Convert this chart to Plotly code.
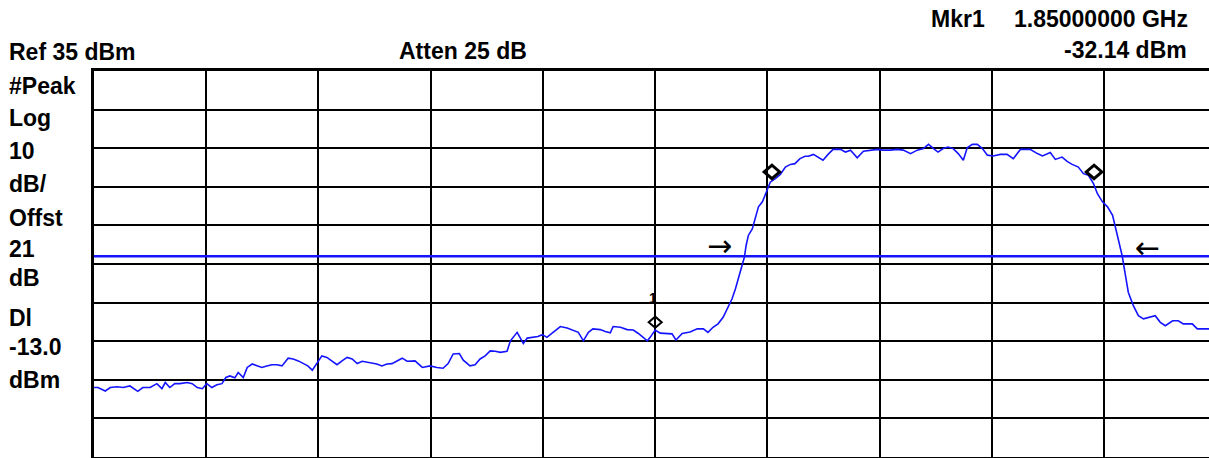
import plotly.graph_objects as go

# Swept trace, frequency in MHz and level in dBm
freq_mhz = [
    1750.0, 1750.7, 1752.0, 1752.9, 1754.1, 1755.2, 1756.4, 1757.0, 1757.8, 1758.7,
    1760.0, 1761.2, 1762.1, 1762.7, 1763.5, 1764.4, 1765.3, 1766.6, 1767.5, 1768.4,
    1769.3, 1770.1, 1771.0, 1771.9, 1772.8, 1773.5, 1774.2, 1775.1, 1775.7, 1776.6,
    1777.3, 1778.2, 1779.1, 1779.9, 1780.8, 1781.7, 1782.6, 1783.5, 1784.6, 1785.5,
    1786.4, 1787.3, 1788.1, 1788.9, 1789.7, 1790.6, 1791.5, 1792.4, 1793.3, 1794.2,
    1795.1, 1796.0, 1796.9, 1797.8, 1798.7, 1799.6, 1800.4, 1801.3, 1802.2, 1803.1,
    1804.0, 1804.9, 1805.8, 1807.2, 1808.5, 1809.9, 1811.1, 1812.2, 1813.1, 1814.0,
    1815.1, 1815.8, 1817.0, 1817.9, 1818.8, 1819.7, 1820.6, 1821.5, 1822.4, 1823.6,
    1824.2, 1824.7, 1825.4, 1825.9, 1826.5, 1827.2, 1828.3, 1829.1, 1829.9, 1830.7,
    1831.8, 1833.1, 1834.3, 1835.4, 1836.3, 1837.2, 1838.1, 1838.9, 1840.2, 1841.1,
    1842.0, 1842.5, 1843.8, 1845.0, 1846.1, 1847.0, 1847.9, 1848.6, 1849.1, 1850.0,
    1850.9, 1851.8, 1853.0, 1853.7, 1854.8, 1856.2, 1857.5, 1858.6, 1859.4, 1860.3,
    1861.2, 1862.1, 1863.0, 1863.7, 1864.3, 1864.8, 1865.5, 1865.9, 1866.2, 1866.6,
    1867.3, 1867.8, 1868.4, 1869.1, 1869.6, 1870.0, 1870.5, 1871.4, 1872.3, 1873.2,
    1874.1, 1874.9, 1875.8, 1876.7, 1877.3, 1878.2, 1879.1, 1879.9, 1880.8, 1881.7,
    1883.0, 1883.9, 1884.8, 1886.0, 1887.1, 1888.3, 1889.6, 1890.6, 1891.9, 1893.1,
    1894.2, 1895.5, 1896.7, 1897.8, 1898.7, 1899.6, 1900.4, 1901.3, 1902.2, 1903.1,
    1904.0, 1904.9, 1905.6, 1906.5, 1907.4, 1908.3, 1909.2, 1910.2, 1911.5, 1912.7,
    1913.8, 1915.1, 1916.8, 1918.1, 1919.0, 1920.4, 1921.3, 1922.5, 1923.4, 1924.3,
    1925.4, 1926.3, 1927.2, 1928.1, 1928.8, 1929.7, 1930.6, 1931.5, 1932.0, 1932.5,
    1933.2, 1933.8, 1934.3, 1935.2, 1936.1, 1937.0, 1937.9, 1939.1, 1940.0, 1940.9,
    1942.2, 1943.2, 1944.1, 1945.7, 1946.6, 1948.7,
]
level_dbm = [
    -47.0, -47.0, -47.9, -47.0, -46.8, -47.0, -46.6, -47.3, -48.0, -47.0,
    -47.0, -46.0, -47.3, -45.7, -47.0, -46.0, -46.0, -45.7, -46.0, -47.0,
    -47.3, -46.0, -47.0, -46.3, -46.0, -44.4, -44.0, -44.5, -43.1, -44.4,
    -41.8, -40.9, -41.4, -41.8, -41.4, -41.1, -41.1, -41.4, -39.4, -39.6,
    -40.1, -40.9, -41.4, -42.5, -40.9, -38.8, -39.2, -40.2, -41.1, -40.1,
    -39.2, -39.6, -40.8, -40.2, -40.4, -40.6, -40.9, -41.4, -40.9, -40.8,
    -40.1, -39.4, -40.2, -40.1, -41.8, -41.4, -41.8, -42.0, -40.8, -38.3,
    -38.2, -39.9, -41.4, -41.1, -39.6, -38.8, -37.5, -37.6, -37.9, -37.6,
    -34.9, -34.0, -32.7, -34.0, -35.6, -34.2, -34.0, -33.8, -33.3, -34.0,
    -32.7, -31.2, -31.6, -32.1, -32.7, -34.9, -32.7, -31.8, -32.0, -32.5,
    -32.8, -31.2, -31.4, -32.0, -32.1, -33.0, -34.0, -34.9, -34.0, -32.14,
    -32.9, -33.0, -33.1, -34.7, -33.0, -32.6, -31.8, -31.8, -32.7, -31.4,
    -30.5, -28.8, -26.2, -24.0, -21.4, -18.8, -15.8, -13.2, -10.2, -7.6,
    -5.9, -3.3, -0.2, 1.1, 2.8, 4.5, 6.2, 7.1, 8.2, 10.1,
    10.8, 11.0, 12.3, 12.9, 12.9, 13.4, 12.7, 11.9, 13.4, 14.7,
    14.7, 14.0, 14.5, 12.5, 14.2, 14.5, 14.7, 14.5, 14.5, 14.7,
    14.5, 13.6, 14.5, 14.9, 16.0, 14.9, 14.0, 14.9, 15.3, 14.9,
    13.6, 11.9, 15.1, 16.0, 16.0, 14.9, 13.2, 13.0, 13.4, 13.4,
    12.3, 14.7, 14.7, 13.6, 13.0, 13.9, 12.1, 12.7, 11.6, 10.8,
    10.1, 8.4, 8.0, 5.8, 3.2, 1.1, -0.2, -2.4, -5.4, -8.5,
    -12.8, -18.0, -22.3, -25.8, -28.4, -29.2, -28.8, -28.4, -30.1, -31.0,
    -29.7, -29.7, -30.5, -30.5, -31.8, -31.8,
]

# Screen settings
ref_level_dbm = 35
db_per_div = 10
display_line_dbm = -13.0
start_mhz = 1750
mhz_per_div = 20

# Marker 1 and the two bandwidth markers
marker1_freq = 1850.0
marker1_level = -32.14
bw_marker_freq = [1870.8, 1928.2]
bw_marker_level = [6.7, 6.7]

# Direction arrows beside the display line
arrow_freq = [1861.5, 1937.8]
arrow_level = [-10.2, -10.7]
arrow_text = ["\u2192", "\u2190"]

# Annotation text around the graticule: (text, x px, cap-centre y px)
header_left = [("Ref 35 dBm", 9, 51.7), ("Atten 25 dB", 399, 51.3),
               ("Mkr1", 931, 19.2)]
header_right = [("1.85000000 GHz", 1188, 19.2), ("-32.14 dBm", 1187, 49.5)]
side_labels = ["#Peak", "Log", "10", "dB/", "Offst", "21", "dB", "Dl", "-13.0", "dBm"]
side_label_y = [85.8, 118, 151.3, 184.2, 218, 249.2, 278, 317.7, 346.5, 379.5]

W, H = 1209, 458
ML, MR, MT, MB = 94, 0, 71, 1
PX_PER_DIV = 112.24
plot_w = W - ML - MR
plot_h = H - MT - MB
stop_mhz = start_mhz + plot_w / PX_PER_DIV * mhz_per_div

BLUE = "#1414ff"
FONT = dict(family="Liberation Sans", size=23, color="black", weight="bold")


def paper_x(px):
    return (px - ML) / plot_w


def paper_y(py):
    return (H - MB - py) / plot_h


fig = go.Figure()

fig.add_trace(go.Scatter(
    x=[start_mhz, stop_mhz], y=[display_line_dbm, display_line_dbm],
    mode="lines", line=dict(color=BLUE, width=2.5), hoverinfo="skip",
))
fig.add_trace(go.Scatter(
    x=freq_mhz, y=level_dbm, mode="lines",
    line=dict(color=BLUE, width=1.6), hoverinfo="skip",
))

shapes = []


def diamond(fx, ly, half_w, half_h, lift, lw):
    path = (f"M0,{lift} L{half_w},{lift + half_h} "
            f"L0,{lift + 2 * half_h} L{-half_w},{lift + half_h} Z")
    return dict(type="path", xref="x", yref="y", xsizemode="pixel",
                ysizemode="pixel", xanchor=fx, yanchor=ly, path=path,
                line=dict(color="black", width=lw), fillcolor="rgba(0,0,0,0)")


shapes.append(diamond(marker1_freq, marker1_level, 6.5, 5.5, 2.5, 2))
for fx, ly in zip(bw_marker_freq, bw_marker_level):
    shapes.append(diamond(fx, ly, 7.8, 6.8, 1.5, 3))

annotations = [dict(x=marker1_freq, y=marker1_level, xref="x", yref="y",
                    text="1", showarrow=False, xshift=-2, yshift=32,
                    font=dict(family="Liberation Sans", size=14, color="black",
                              weight="bold"),
                    borderpad=0, borderwidth=0)]

for fx, ly, t in zip(arrow_freq, arrow_level, arrow_text):
    annotations.append(dict(x=fx, y=ly, xref="x", yref="y", text=t,
                            showarrow=False,
                            font=dict(family="DejaVu Sans", size=30, color="black"),
                            borderpad=0, borderwidth=0))

for t, x, y in header_left:
    annotations.append(dict(x=paper_x(x), y=paper_y(y), xref="paper", yref="paper",
                            text=t, showarrow=False, xanchor="left", yanchor="middle",
                            font=FONT, borderpad=0, borderwidth=0))
for t, x, y in header_right:
    annotations.append(dict(x=paper_x(x), y=paper_y(y), xref="paper", yref="paper",
                            text=t, showarrow=False, xanchor="right", yanchor="middle",
                            font=FONT, borderpad=0, borderwidth=0))
for t, y in zip(side_labels, side_label_y):
    annotations.append(dict(x=paper_x(9), y=paper_y(y), xref="paper", yref="paper",
                            text=t, showarrow=False, xanchor="left", yanchor="middle",
                            font=FONT, borderpad=0, borderwidth=0))

fig.update_layout(
    width=W, height=H,
    margin=dict(l=ML, r=MR, t=MT, b=MB),
    paper_bgcolor="white", plot_bgcolor="white",
    showlegend=False,
    shapes=shapes, annotations=annotations,
    xaxis=dict(range=[start_mhz, stop_mhz], tick0=start_mhz, dtick=mhz_per_div,
               showgrid=True, gridcolor="black", gridwidth=2,
               showticklabels=False, ticks="", zeroline=False,
               showline=True, linecolor="black", linewidth=3, mirror=True),
    yaxis=dict(range=[ref_level_dbm - 10 * db_per_div, ref_level_dbm],
               tick0=ref_level_dbm, dtick=db_per_div,
               showgrid=True, gridcolor="black", gridwidth=2,
               showticklabels=False, ticks="", zeroline=False,
               showline=True, linecolor="black", linewidth=3, mirror=False),
)

fig.write_html("out.html")
